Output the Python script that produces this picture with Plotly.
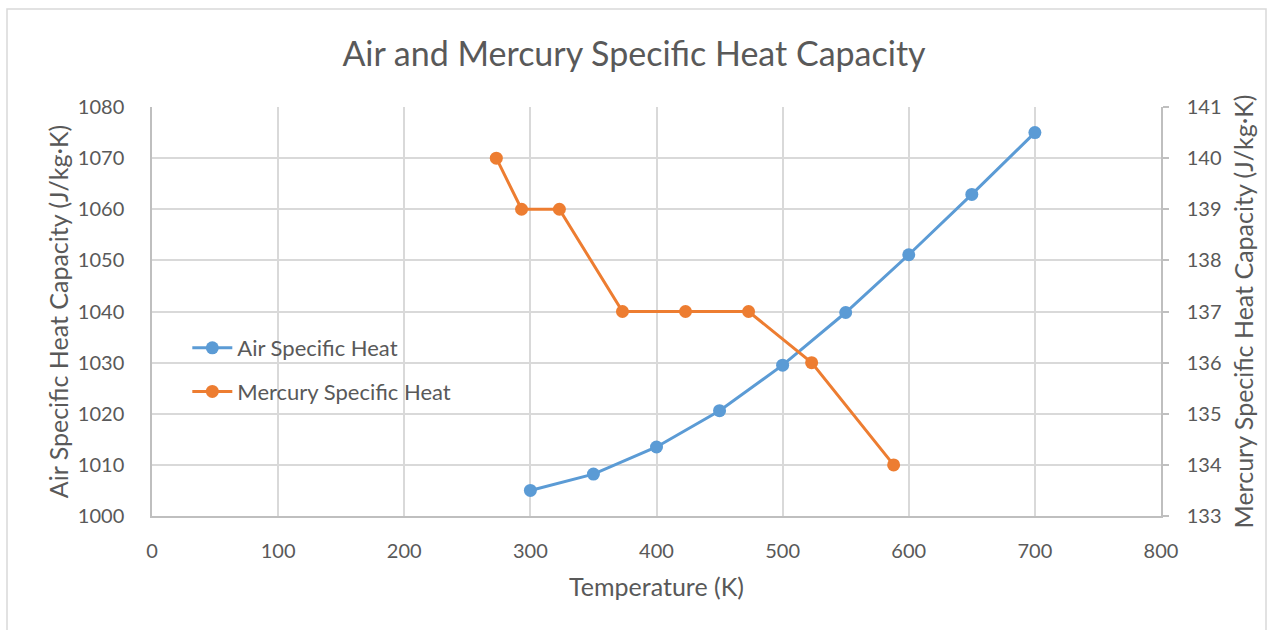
import plotly.graph_objects as go

air_temp = [300, 350, 400, 450, 500, 550, 600, 650, 700]
air_cp = [1005, 1008.2, 1013.5, 1020.6, 1029.5, 1039.8, 1051.1, 1062.9, 1075]

hg_temp = [273, 293, 323, 373, 423, 473, 523, 588]
hg_cp = [140, 139, 139, 137, 137, 137, 136, 134]

x_ticks = [0, 100, 200, 300, 400, 500, 600, 700, 800]
left_ticks = [1000, 1010, 1020, 1030, 1040, 1050, 1060, 1070, 1080]
right_ticks = [133, 134, 135, 136, 137, 138, 139, 140, 141]

FONT = "Lato"
TXT = "#595959"
GRID = "#d9d9d9"
AXIS = "#bfbfbf"

fig = go.Figure()
fig.add_trace(go.Scatter(x=air_temp, y=air_cp, name="Air Specific Heat",
                         mode="lines+markers", legendgroup="a",
                         line=dict(color="#5B9BD5", width=3),
                         marker=dict(size=13, color="#5B9BD5")))
fig.add_trace(go.Scatter(x=hg_temp, y=hg_cp, name="Mercury Specific Heat",
                         mode="lines+markers", yaxis="y2", legendgroup="b",
                         line=dict(color="#ED7D31", width=3),
                         marker=dict(size=13, color="#ED7D31")))

fig.update_layout(
    width=1268, height=630,
    paper_bgcolor="white", plot_bgcolor="white",
    margin=dict(l=152, r=107, t=107, b=114),
    font=dict(family=FONT, color=TXT, size=20),
    title=dict(text="Air and Mercury Specific Heat Capacity", x=0.5, xanchor="center",
               y=1 - 54 / 630, yanchor="middle", font=dict(size=34, color=TXT)),
    xaxis=dict(range=[0, 800], tickvals=x_ticks, showgrid=True, gridcolor=GRID, gridwidth=1.5,
               showline=True, linecolor=AXIS, linewidth=1.5, zeroline=False,
               ticks="", ticklabelstandoff=16,
               title=dict(text="Temperature (K)", font=dict(size=25), standoff=18)),
    yaxis=dict(range=[1000, 1080], tickvals=left_ticks, showgrid=True, gridcolor=GRID, gridwidth=1.5,
               showline=True, linecolor=AXIS, linewidth=1.5, zeroline=False,
               ticks="", ticklabelstandoff=22,
               title=dict(text="Air Specific Heat Capacity (J/kg·K)", font=dict(size=25), standoff=2)),
    yaxis2=dict(range=[133, 141], tickvals=right_ticks, overlaying="y", side="right",
                showgrid=False, showline=True, linecolor=AXIS, linewidth=1.5, zeroline=False,
                ticks="outside", ticklen=6, tickcolor=AXIS, tickwidth=1.5, ticklabelstandoff=14,
                title=dict(text="Mercury Specific Heat Capacity (J/kg·K)", font=dict(size=25), standoff=15)),
    legend=dict(x=0.035, y=(516 - 370) / 409, xanchor="left", yanchor="middle", bgcolor="rgba(0,0,0,0)",
                font=dict(size=22), tracegroupgap=12, itemwidth=40),
    showlegend=True,
)

fig.add_shape(type="rect", xref="paper", yref="paper", x0=-145 / 1009, x1=1 + 105 / 1009,
              y0=-120 / 409, y1=1 + 98 / 409, line=dict(color="#d9d9d9", width=1.5))

fig.write_html("out.html")
